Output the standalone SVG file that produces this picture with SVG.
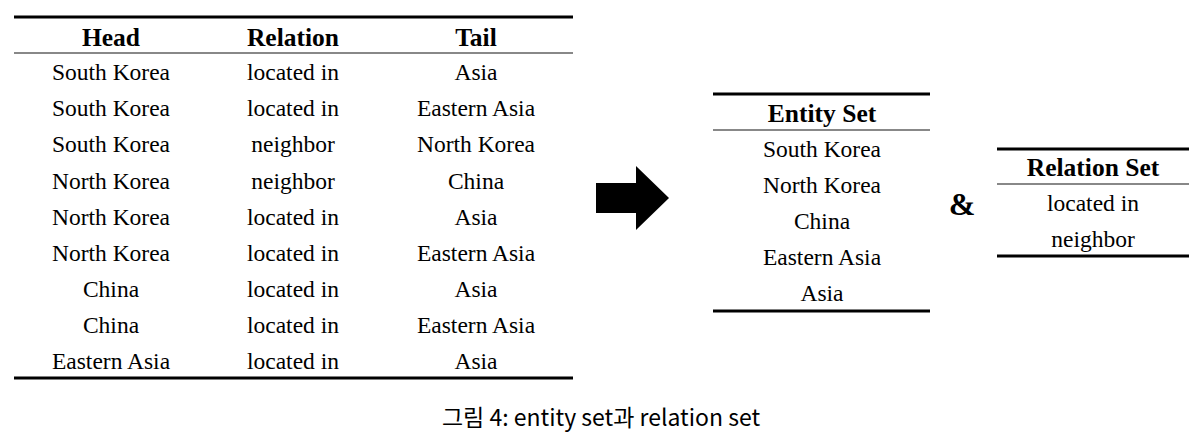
<svg xmlns="http://www.w3.org/2000/svg" width="1198" height="439" viewBox="0 0 1198 439">
<style>
text{font-family:"Liberation Serif",serif;font-size:23.5px;text-anchor:middle;fill:#000}
.h{font-weight:bold;font-size:25.5px}
.thick{stroke:#000;stroke-width:3}
.thin{stroke:#888;stroke-width:2}
.cap{font-family:"Noto Sans CJK KR","Noto Sans",sans-serif;font-size:23px}
</style>
<rect width="1198" height="439" fill="#fff"/>
<g id="triples">
<line class="thick" x1="14" y1="17" x2="573" y2="17"/>
<line class="thin" x1="14" y1="53" x2="573" y2="53"/>
<line class="thick" x1="14" y1="378" x2="573" y2="378"/>
<text class="h" x="111" y="46">Head</text><text class="h" x="293" y="46">Relation</text><text class="h" x="476" y="46">Tail</text>
<g transform="translate(0,80)">
<text x="111" y="0">South Korea</text><text x="293" y="0">located in</text><text x="476" y="0">Asia</text>
<text x="111" y="36">South Korea</text><text x="293" y="36">located in</text><text x="476" y="36">Eastern Asia</text>
<text x="111" y="72">South Korea</text><text x="293" y="72">neighbor</text><text x="476" y="72">North Korea</text>
<text x="111" y="109">North Korea</text><text x="293" y="109">neighbor</text><text x="476" y="109">China</text>
<text x="111" y="145">North Korea</text><text x="293" y="145">located in</text><text x="476" y="145">Asia</text>
<text x="111" y="181">North Korea</text><text x="293" y="181">located in</text><text x="476" y="181">Eastern Asia</text>
<text x="111" y="217">China</text><text x="293" y="217">located in</text><text x="476" y="217">Asia</text>
<text x="111" y="253">China</text><text x="293" y="253">located in</text><text x="476" y="253">Eastern Asia</text>
<text x="111" y="289">Eastern Asia</text><text x="293" y="289">located in</text><text x="476" y="289">Asia</text>
</g>
</g>
<g id="arrow"><polygon points="596,183 636,183 636,166 669,198 636,230 636,213 596,213" fill="#000"/></g>
<g id="entityset">
<line class="thick" x1="713" y1="94" x2="930" y2="94"/>
<line class="thin" x1="713" y1="130" x2="930" y2="130"/>
<line class="thick" x1="713" y1="311" x2="930" y2="311"/>
<text class="h" x="822" y="122">Entity Set</text>
<text x="822" y="157">South Korea</text>
<text x="822" y="193">North Korea</text>
<text x="822" y="229">China</text>
<text x="822" y="265">Eastern Asia</text>
<text x="822" y="301">Asia</text>
</g>
<g id="amp"><text class="h" x="962" y="215" style="font-size:32px">&amp;</text></g>
<g id="relationset">
<line class="thick" x1="997" y1="149" x2="1189" y2="149"/>
<line class="thin" x1="997" y1="184" x2="1189" y2="184"/>
<line class="thick" x1="997" y1="256" x2="1189" y2="256"/>
<text class="h" x="1093" y="176">Relation Set</text>
<text x="1093" y="211">located in</text>
<text x="1093" y="247">neighbor</text>
</g>
<text class="cap" x="601" y="426">그림 4: entity set과 relation set</text>
</svg>
